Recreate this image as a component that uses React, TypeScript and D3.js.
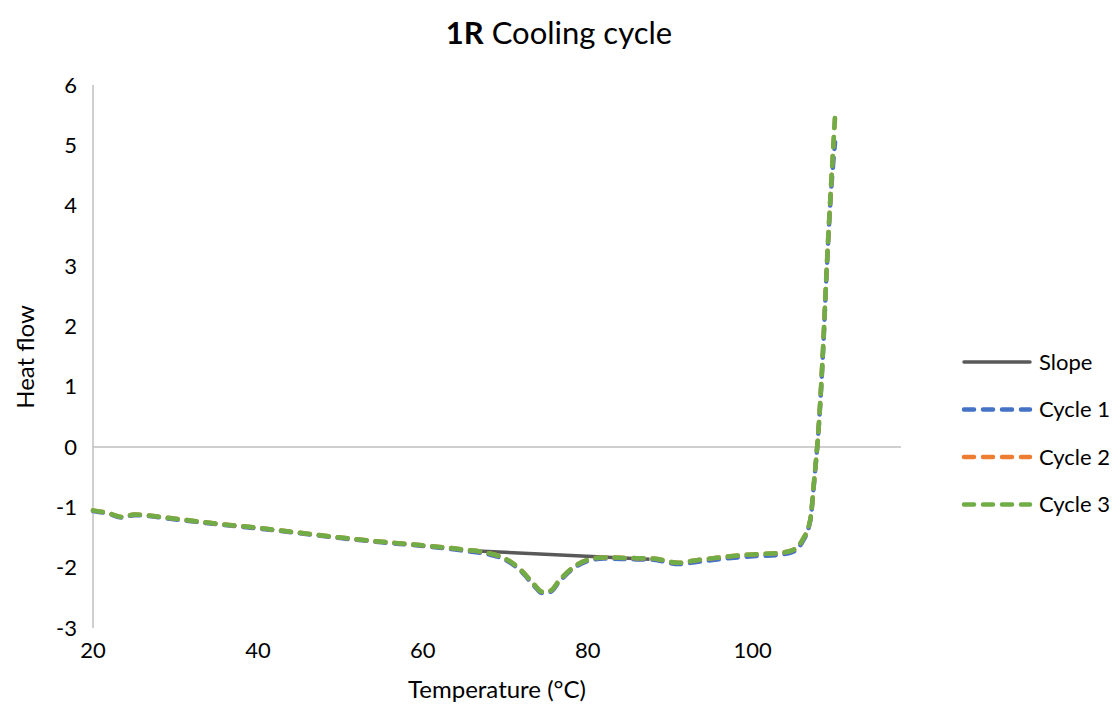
import React from "react";
import * as d3 from "d3";

// Temperature sample points (°C) shared by all three cycles
const temps = [
  20, 22, 23.5, 25, 30, 35, 40, 45, 50, 55, 60, 65, 68, 70, 72, 73.5, 74.5, 75.5,
  76.5, 78, 80, 82, 85, 88, 91, 93, 96, 100, 103, 105, 106, 107, 107.5, 108,
  108.5, 109, 109.5, 110,
];

// Heat flow readings per cooling cycle
const cycle1 = [
  -1.06, -1.11, -1.17, -1.13, -1.2, -1.28, -1.35, -1.43, -1.51, -1.58, -1.64,
  -1.72, -1.78, -1.87, -2.07, -2.3, -2.42, -2.4, -2.24, -2.04, -1.89, -1.85,
  -1.86, -1.87, -1.94, -1.91, -1.86, -1.81, -1.79, -1.73, -1.58, -1.22, -0.52,
  0.28, 1.45, 2.95, 4.2, 5.05,
];
const cycle2 = [
  -1.05, -1.1, -1.16, -1.12, -1.19, -1.27, -1.34, -1.42, -1.5, -1.57, -1.63,
  -1.7, -1.76, -1.85, -2.05, -2.28, -2.4, -2.38, -2.22, -2.02, -1.87, -1.83,
  -1.84, -1.85, -1.92, -1.88, -1.83, -1.78, -1.76, -1.7, -1.55, -1.2, -0.5, 0.3,
  1.5, 3.0, 4.3, 5.45,
];
const cycle3 = [
  -1.05, -1.1, -1.16, -1.12, -1.19, -1.27, -1.34, -1.42, -1.5, -1.57, -1.63,
  -1.7, -1.76, -1.85, -2.05, -2.28, -2.4, -2.38, -2.22, -2.02, -1.87, -1.83,
  -1.84, -1.85, -1.92, -1.88, -1.83, -1.78, -1.76, -1.7, -1.55, -1.2, -0.5, 0.3,
  1.5, 3.0, 4.3, 5.5,
];

// Baseline drawn under the crystallisation peak
const slopeTemps = [66, 87.5];
const slopeValues = [-1.72, -1.86];

const xTicks = [20, 40, 60, 80, 100];
const yTicks = [-3, -2, -1, 0, 1, 2, 3, 4, 5, 6];

const seriesNames = ["Slope", "Cycle 1", "Cycle 2", "Cycle 3"];
const seriesColors = ["#595959", "#4472C4", "#ED7D31", "#70AD47"];

const W = 1118;
const H = 724;
const FONT = "Lato, 'Open Sans', sans-serif";

export default function App() {
  const x = d3.scaleLinear().domain([20, 118]).range([93, 901]);
  const y = d3.scaleLinear().domain([-3, 6]).range([628, 85]);

  const line = d3
    .line<[number, number]>()
    .x((d) => x(d[0]))
    .y((d) => y(d[1]))
    .curve(d3.curveMonotoneX);

  const toPts = (vals: number[]) =>
    temps.map((t, i) => [t, vals[i]] as [number, number]);

  const slopePts = slopeTemps.map(
    (t, i) => [t, slopeValues[i]] as [number, number]
  );

  const cycles = [cycle1, cycle2, cycle3];
  const dash = "10 9";

  return (
    <svg
      width={W}
      height={H}
      style={{ position: "absolute", left: 0, top: 0, background: "#fff" }}
      fontFamily={FONT}
    >
      {/* title */}
      <text x={559} y={44} textAnchor="middle" fontSize={31} fill="#000">
        <tspan fontWeight="bold">1R</tspan>
        <tspan> Cooling cycle</tspan>
      </text>

      {/* vertical axis line */}
      <line x1={x(20)} x2={x(20)} y1={y(6)} y2={y(-3)} stroke="#BFBFBF" strokeWidth={1.5} />
      {/* horizontal axis crossing at zero */}
      <line x1={x(20)} x2={x(118)} y1={y(0)} y2={y(0)} stroke="#BFBFBF" strokeWidth={1.5} />

      {/* y tick labels */}
      {yTicks.map((t) => (
        <text
          key={t}
          x={x(20) - 16}
          y={y(t)}
          dy="0.35em"
          textAnchor="end"
          fontSize={22}
          fill="#000"
        >
          {t}
        </text>
      ))}

      {/* x tick labels */}
      {xTicks.map((t) => (
        <text
          key={t}
          x={x(t)}
          y={y(-3) + 22}
          dy="0.35em"
          textAnchor="middle"
          fontSize={22}
          fill="#000"
        >
          {t}
        </text>
      ))}

      {/* axis titles */}
      <text x={497} y={698} textAnchor="middle" fontSize={24} fill="#000">
        Temperature (°C)
      </text>
      <text
        transform={`translate(34,${357}) rotate(-90)`}
        textAnchor="middle"
        fontSize={24}
        fill="#000"
      >
        Heat flow
      </text>

      {/* slope */}
      <path
        d={line(slopePts) || ""}
        fill="none"
        stroke={seriesColors[0]}
        strokeWidth={3.5}
      />

      {/* cycles */}
      {cycles.map((vals, i) => (
        <path
          key={i}
          d={line(toPts(vals)) || ""}
          fill="none"
          stroke={seriesColors[i + 1]}
          strokeWidth={4.5}
          strokeDasharray={dash}
          strokeLinecap="round"
          strokeLinejoin="round"
        />
      ))}

      {/* legend */}
      {seriesNames.map((name, i) => {
        const ly = 362 + i * 47.5;
        return (
          <g key={name}>
            <line
              x1={964}
              x2={1030}
              y1={ly}
              y2={ly}
              stroke={seriesColors[i]}
              strokeWidth={i === 0 ? 3.5 : 4.5}
              strokeDasharray={i === 0 ? undefined : dash}
              strokeLinecap="round"
            />
            <text x={1039} y={ly} dy="0.35em" fontSize={22} fill="#000">
              {name}
            </text>
          </g>
        );
      })}
    </svg>
  );
}
